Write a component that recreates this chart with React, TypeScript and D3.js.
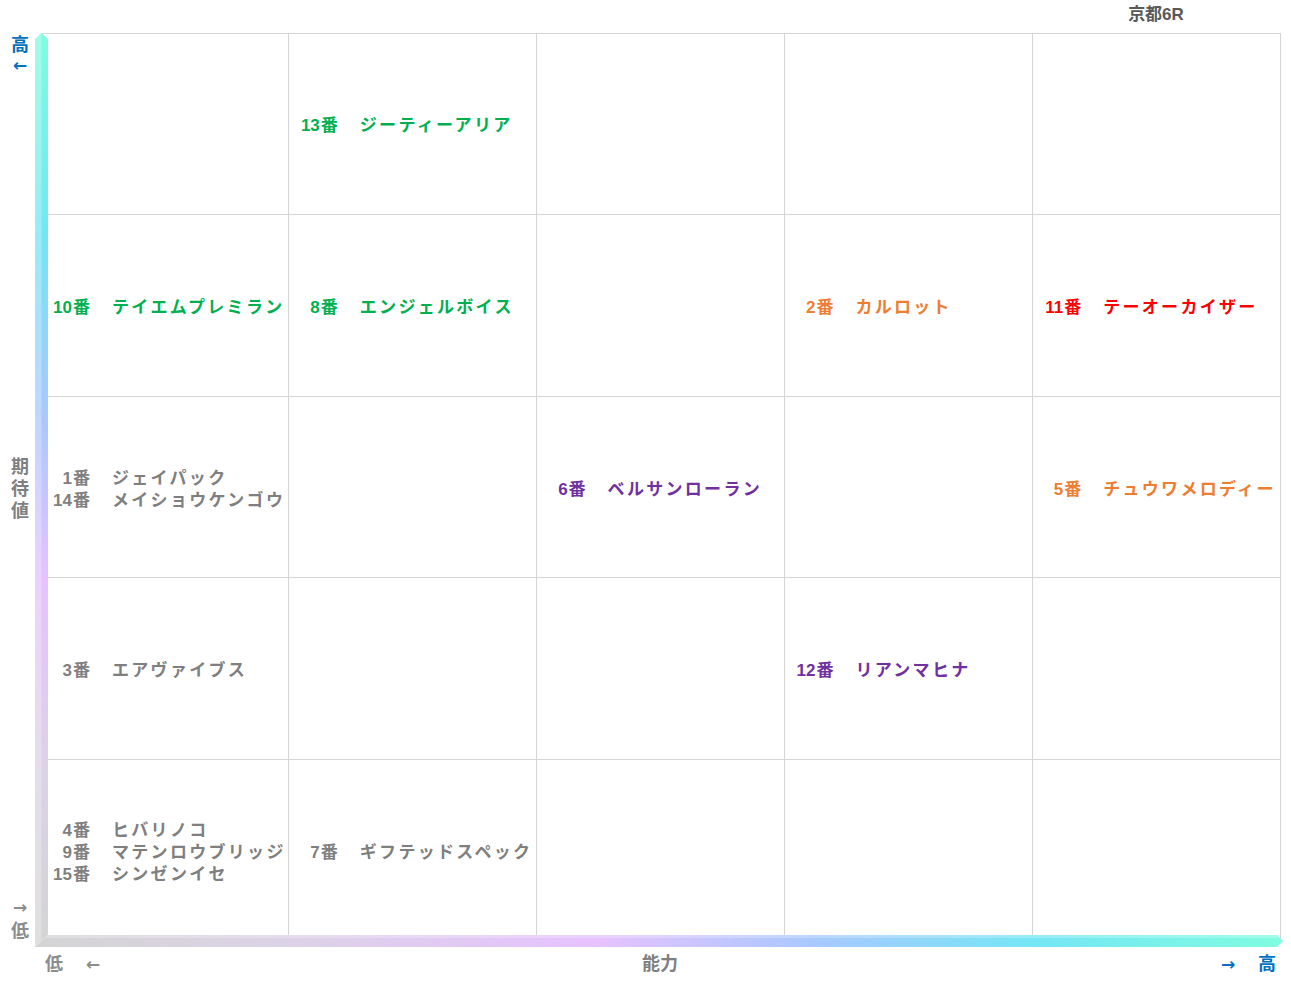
import React from "react";
import * as d3 from "d3";

const title = "京都6R";
const abilityLevels = [1, 2, 3, 4, 5];
const expectLevels = [5, 4, 3, 2, 1];
const xAxisLabel = "能力";
const yAxisLabel = ["期", "待", "値"];

// horse entries: ability (x level), expectation (y level), number, name, colour group
const horseNumbers = [13, 10, 8, 2, 11, 1, 14, 6, 5, 3, 12, 4, 9, 15, 7];
const horseNames = [
  "ジーティーアリア",
  "テイエムプレミラン",
  "エンジェルボイス",
  "カルロット",
  "テーオーカイザー",
  "ジェイパック",
  "メイショウケンゴウ",
  "ベルサンローラン",
  "チュウワメロディー",
  "エアヴァイブス",
  "リアンマヒナ",
  "ヒバリノコ",
  "マテンロウブリッジ",
  "シンゼンイセ",
  "ギフテッドスペック",
];
const horseAbility = [2, 1, 2, 4, 5, 1, 1, 3, 5, 1, 4, 1, 1, 1, 2];
const horseExpect = [5, 4, 4, 4, 4, 3, 3, 3, 3, 2, 2, 1, 1, 1, 1];
const horseGroup = ["green", "green", "green", "orange", "red", "gray", "gray", "purple", "orange", "gray", "purple", "gray", "gray", "gray", "gray"];

const groupColors: Record<string, string> = {
  green: "#00b050",
  orange: "#ed7d31",
  red: "#ff0000",
  purple: "#7030a0",
  gray: "#7f7f7f",
};

const W = 1291;
const H = 983;
const FONT = "'Liberation Sans', 'Noto Sans CJK JP', sans-serif";
const ARROW_FONT = "'DejaVu Sans', sans-serif";

export default function App() {
  const x = d3.scaleBand<number>().domain(abilityLevels).range([41, 1280]);
  const y = d3.scaleBand<number>().domain(expectLevels).range([33, 941]);
  const cw = x.bandwidth();
  const ch = y.bandwidth();
  const lineH = 22;

  const entries = horseNumbers.map((n, i) => ({
    num: n,
    name: horseNames[i],
    ax: horseAbility[i],
    ey: horseExpect[i],
    color: groupColors[horseGroup[i]],
  }));
  const cells = d3.group(entries, (d) => `${d.ax}-${d.ey}`);

  const left = 35, right = 48, top = 33, bot = 947, hTop = 935;
  const endX = 1283;
  const blue = "#0070c0";
  const gray = "#8c8c8c";

  return (
    <svg width={W} height={H} style={{ position: "absolute", left: 0, top: 0, background: "#fff" }}>
      <defs>
        <linearGradient id="vgrad" x1="0" y1={top} x2="0" y2={bot} gradientUnits="userSpaceOnUse">
          <stop offset="0" stopColor="#80fce0" />
          <stop offset="0.22" stopColor="#74e6f4" />
          <stop offset="0.42" stopColor="#aac8ff" />
          <stop offset="0.6" stopColor="#e6c2ff" />
          <stop offset="0.8" stopColor="#dcd2e6" />
          <stop offset="1" stopColor="#d4d4d4" />
        </linearGradient>
        <linearGradient id="hgrad" x1={left} y1="0" x2={endX} y2="0" gradientUnits="userSpaceOnUse">
          <stop offset="0" stopColor="#d4d4d4" />
          <stop offset="0.2" stopColor="#dcd2e6" />
          <stop offset="0.45" stopColor="#e6c2ff" />
          <stop offset="0.62" stopColor="#aac8ff" />
          <stop offset="0.8" stopColor="#74e6f4" />
          <stop offset="1" stopColor="#80fce0" />
        </linearGradient>
      </defs>

      {/* grid */}
      <g stroke="#d4d4d4" strokeWidth={1} fill="none" shapeRendering="crispEdges">
        {abilityLevels.map((a) => (
          <rect key={"c" + a} x={x(a)!} y={33} width={cw} height={908} />
        ))}
        {expectLevels.map((e) => (
          <line key={"r" + e} x1={41} x2={1280} y1={y(e)!} y2={y(e)!} />
        ))}
      </g>

      {/* axes bars */}
      <polygon
        points={`${left},${top + 6} ${(left + right) / 2},${top} ${right},${top + 6} ${right},${hTop} ${left},${bot}`}
        fill="url(#vgrad)"
      />
      <polygon
        points={`${left},${top + 6} ${(left + right) / 2},${top} ${(left + right) / 2},${hTop + 6} ${left},${bot}`}
        fill="#ffffff"
        opacity={0.25}
      />
      <polygon
        points={`${left},${bot} ${right},${hTop} ${endX - 6},${hTop} ${endX},${(hTop + bot) / 2} ${endX - 6},${bot}`}
        fill="url(#hgrad)"
      />
      <polygon
        points={`${right},${hTop} ${endX - 6},${hTop} ${endX - 3},${hTop + 3} ${right - 3},${hTop + 3}`}
        fill="#ffffff"
        opacity={0.25}
      />

      {/* cell texts: one text element per cell, one line per horse */}
      {Array.from(cells.entries()).map(([key, list]) => {
        const cx = x(list[0].ax)!;
        const cy = y(list[0].ey)! + ch / 2 + 1.5;
        const n = list.length;
        return (
          <text key={key} fontFamily={FONT} fontWeight="bold" fontSize={17} dominantBaseline="central" fill={list[0].color}>
            {list.map((d, i) => {
              const ty = cy + (i - (n - 1) / 2) * lineH;
              return (
                <React.Fragment key={d.num}>
                  <tspan x={cx + 31} y={ty} textAnchor="end">{d.num}</tspan>
                  <tspan x={cx + 32} y={ty} textAnchor="start">番</tspan>
                  <tspan x={cx + 71} y={ty} textAnchor="start" letterSpacing={2.3}>{d.name}</tspan>
                </React.Fragment>
              );
            })}
          </text>
        );
      })}

      {/* title */}
      <text x={1156} y={14} textAnchor="middle" dominantBaseline="central" fontFamily={FONT} fontWeight="bold" fontSize={17} fill="#595959">
        {title}
      </text>

      {/* y axis labels */}
      <g fontFamily={FONT} fontWeight="bold" fontSize={18} textAnchor="middle" dominantBaseline="central">
        <text fill={blue}>
          <tspan x={20} y={45}>高</tspan>
        </text>
        <text x={20} y={65} fill={blue} fontFamily={ARROW_FONT} fontSize={17}>←</text>
        <text fill="#7f7f7f">
          {yAxisLabel.map((c, i) => (
            <tspan key={c} x={20} y={467 + i * 22}>{c}</tspan>
          ))}
        </text>
        <text x={20} y={907} fill={gray} fontFamily={ARROW_FONT} fontSize={17}>→</text>
        <text x={20} y={931} fill={gray}>低</text>
      </g>

      {/* x axis labels */}
      <g fontFamily={FONT} fontWeight="bold" fontSize={18} textAnchor="middle" dominantBaseline="central">
        <text x={54} y={964} fill={gray}>低</text>
        <text x={93} y={964} fill={gray} fontFamily={ARROW_FONT} fontSize={17}>←</text>
        <text x={660} y={964} fill="#7f7f7f">{xAxisLabel}</text>
        <text x={1228} y={964} fill={blue} fontFamily={ARROW_FONT} fontSize={17}>→</text>
        <text x={1267} y={964} fill={blue}>高</text>
      </g>
    </svg>
  );
}
